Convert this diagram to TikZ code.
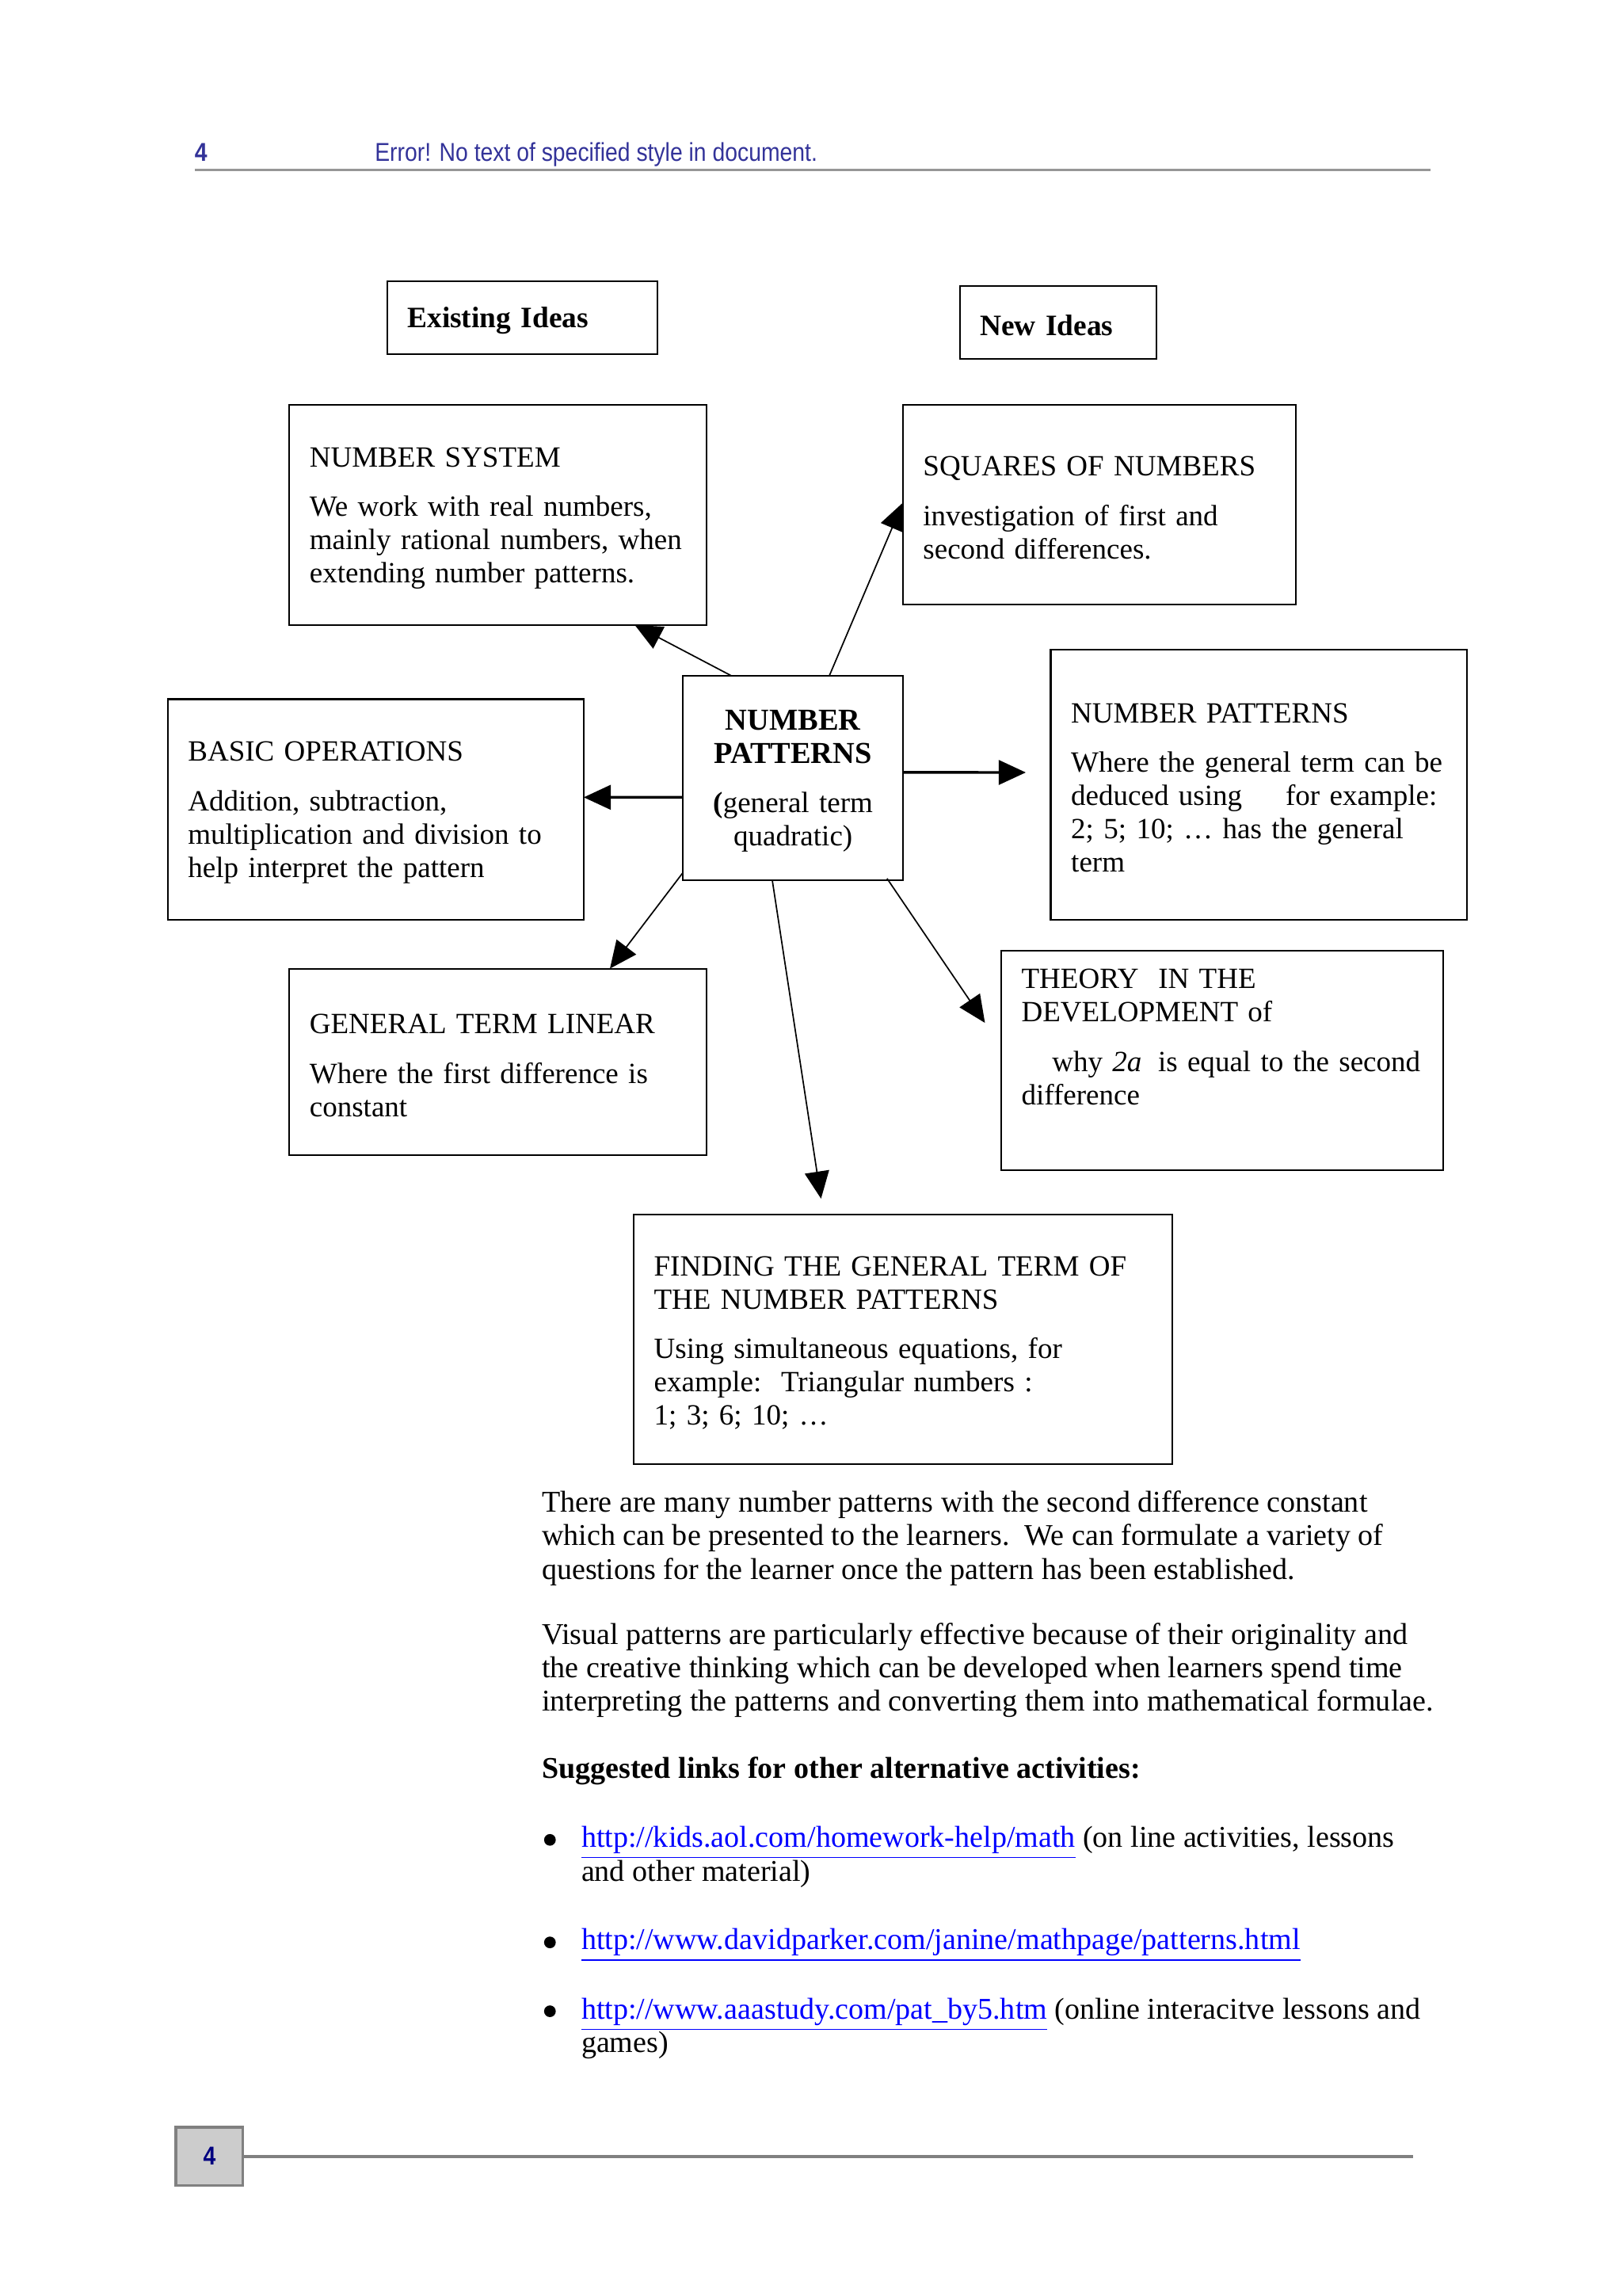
\documentclass[tikz,border=0pt]{standalone}
\usepackage{fontspec}
\setmainfont{Liberation Serif}
\newfontfamily\narrowsans[FakeStretch=0.87]{Liberation Sans}
\usetikzlibrary{arrows.meta,calc}

\definecolor{header-blue}{RGB}{51, 51, 153}
\definecolor{footer-navy}{RGB}{0, 0, 128}
\definecolor{rule-gray}{RGB}{150, 150, 150}
\definecolor{tab-gray}{RGB}{204, 204, 204}
\definecolor{tab-border}{RGB}{128, 128, 128}
\definecolor{link-blue}{RGB}{0, 0, 255}

\newcommand{\weblink}[1]{{\color{link-blue}\underline{#1}}}
\hyphenpenalty=10000
\exhyphenpenalty=10000

\begin{document}
\begin{tikzpicture}[
        x=0.018958cm, y=-0.018958cm,
        every node/.style={inner sep=0pt, outer sep=0pt},
        font=\fontsize{10.8}{12.25}\selectfont,
        box/.style={draw, line width=0.6pt, inner xsep=7.5pt, inner ysep=0pt, align=left,
            execute at begin node={\rule{0pt}{9.6pt}}},
        centrebox/.style={box, align=center, inner xsep=2pt},
        link/.style={-{Triangle[length=10pt,width=9pt]}, line width=0.5pt},
        heavylink/.style={link, line width=1pt},
        bodytext/.style={anchor=base west, align=left, font=\fontsize{11.1}{12.3}\selectfont},
        header/.style={anchor=base west, text=header-blue, font=\narrowsans\fontsize{9.5}{11}\selectfont},
    ]
    \useasboundingbox (0,0) rectangle (1107.7,1567.4);

    % running head
    \node[header, font=\narrowsans\bfseries\fontsize{9.5}{11}\selectfont] (pagenum) at (133,110) {4};
    \node[header] (runhead) at (256,110) {Error! No text of specified style in document.};
    \draw[rule-gray, line width=0.6pt] (133,116) -- (977,116);

    % titles
    \node[box, minimum width=99.4pt, minimum height=26.9pt, text width=84.4pt, font=\fontsize{10.9}{12.25}\selectfont\bfseries] (existing) at (356.5,217) {Existing Ideas};
    \node[box, minimum width=72.5pt, minimum height=26.9pt, text width=57.5pt, font=\fontsize{10.9}{12.25}\selectfont\bfseries] (newideas) at (722.5,220) {New Ideas};

    % boxes
    \node[box, minimum width=153.7pt, minimum height=81.1pt, text width=138.7pt] (numsys) at (340,351.5)
        {NUMBER SYSTEM\\[6pt] We work with real numbers,\\ mainly rational numbers, when\\ extending number patterns.};
    \node[box, minimum width=144.6pt, minimum height=73.6pt, text width=129.6pt] (squares) at (750.5,344.5)
        {SQUARES OF NUMBERS\\[6pt] investigation of first and\\ second differences.};
    \node[centrebox, minimum width=81.1pt, minimum height=75.2pt, text width=77.1pt] (centre) at (541.5,531)
        {{\fontsize{11.2}{12.25}\selectfont\bfseries NUMBER\\ PATTERNS}\\[6pt] \textbf{(}general term\\ quadratic)};
    \node[box, minimum width=153.2pt, minimum height=81.1pt, text width=138.2pt] (basic) at (256.5,552.5)
        {BASIC OPERATIONS\\[6pt] Addition, subtraction,\\ multiplication and division to\\ help interpret the pattern};
    \node[box, minimum width=153.2pt, minimum height=99.4pt, text width=138.2pt] (quadratic) at (859.5,535.5)
        {NUMBER PATTERNS\\[6pt] Where the general term can be\\ deduced using\hspace{16pt}for example:\\ 2; 5; 10; \dots\ has the general\\ term};
    \node[box, minimum width=153.7pt, minimum height=68.8pt, text width=138.7pt] (linear) at (340,725)
        {GENERAL TERM LINEAR\\[6pt] Where the first difference is\\ constant};
    \node[box, minimum width=162.8pt, minimum height=80.6pt, text width=147.8pt] (theory) at (834.5,724)
        {THEORY\ \ IN THE\\ DEVELOPMENT of\\[6pt] \hspace*{11.3pt}why \textit{2a}\hspace{6pt}is equal to the second\\ difference\rule[-20pt]{0pt}{0pt}};
    \node[box, minimum width=198.3pt, minimum height=91.9pt, text width=183.3pt] (finding) at (616.5,914.5)
        {FINDING THE GENERAL TERM OF\\ THE NUMBER PATTERNS\\[6pt] Using simultaneous equations, for\\ example:\ \ Triangular numbers :\\ 1; 3; 6; 10; \dots};

    % arrows
    \draw[link] ($(centre.north west)+(33,0)$) -- ($(numsys.south west)+(236,0)$);
    \draw[link] ($(centre.north west)+(100,0)$) -- ($(squares.north west)+(0,67)$);
    \draw[heavylink] ($(centre.north east)+(0,66)$) -- ($(quadratic.north west)+(-17,84)$);
    \draw[heavylink] ($(centre.north west)+(0,83)$) -- ($(basic.north east)+(0,67)$);
    \draw[link] ($(centre.south west)+(0,-5)$) -- ($(linear.north west)+(219,0)$);
    \draw[link] ($(centre.south west)+(61,0)$) -- ($(finding.north west)+(128,-11)$);
    \draw[link] ($(centre.south east)+(-11,-1)$) -- ($(theory.north west)+(-11,49)$);

    % text below the diagram (anchored on the last line)
    \node[bodytext] (para1) at (370,1078)
        {There are many number patterns with the second difference constant\\
         which can be presented to the learners.\ \ We can formulate a variety of\\
         questions for the learner once the pattern has been established.};
    \node[bodytext] (para2) at (370,1168)
        {Visual patterns are particularly effective because of their originality and\\
         the creative thinking which can be developed when learners spend time\\
         interpreting the patterns and converting them into mathematical formulae.};
    \node[bodytext, font=\fontsize{11.1}{12.3}\selectfont\bfseries] (linkshead) at (370,1214)
        {Suggested links for other alternative activities:};

    \node[circle, fill, minimum size=4.3pt] (dot1) at (375.5,1256) {};
    \node[bodytext] (item1) at (397,1284)
        {\weblink{http://kids.aol.com/homework-help/math} (on line activities, lessons\\ and other material)};
    \node[circle, fill, minimum size=4.3pt] (dot2) at (375.5,1326) {};
    \node[bodytext] (item2) at (397,1331)
        {\weblink{http://www.davidparker.com/janine/mathpage/patterns.html}};
    \node[circle, fill, minimum size=4.3pt] (dot3) at (375.5,1373) {};
    \node[bodytext] (item3) at (397,1401)
        {\weblink{http://www.aaastudy.com/pat\_by5.htm} (online interacitve lessons and\\ games)};

    % page tab
    \node[draw=tab-border, fill=tab-gray, line width=1pt, minimum width=24.7pt, minimum height=21.5pt,
          text=footer-navy, font=\narrowsans\bfseries\fontsize{9.5}{11}\selectfont] (pagetab) at (143,1472) {4};
    \draw[tab-border, line width=1.2pt] (pagetab.east) -- ++(799,0);
\end{tikzpicture}
\end{document}
